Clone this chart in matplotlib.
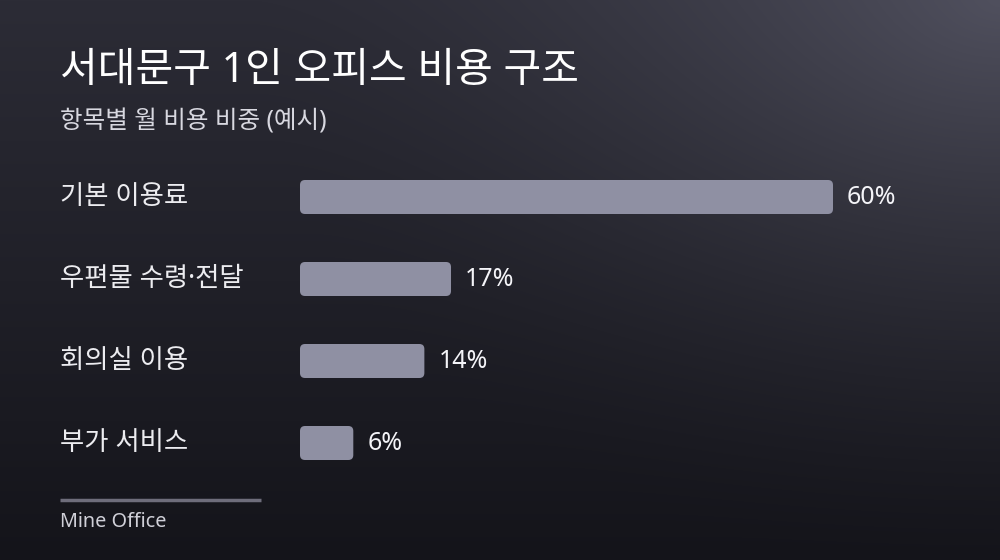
import numpy as np
import matplotlib
matplotlib.use("Agg")
import matplotlib.pyplot as plt
from matplotlib.patches import FancyBboxPatch

plt.rcParams['font.family'] = ['Noto Sans', 'Noto Sans CJK KR', 'DejaVu Sans']

# ---- data ----
title = "서대문구 1인 오피스 비용 구조"
subtitle = "항목별 월 비용 비중 (예시)"
categories = ["기본 이용료", "우편물 수령·전달", "회의실 이용", "부가 서비스"]
values = [60, 17, 14, 6]
value_labels = ["60%", "17%", "14%", "6%"]
source = "Mine Office"

W, H = 1000, 560
fig = plt.figure(figsize=(W / 100, H / 100), dpi=100)

# ---- background gradient ----
bg = fig.add_axes([0, 0, 1, 1])
yy, xx = np.mgrid[0:H, 0:W]
top = np.array([44, 44, 54], float)
bot = np.array([20, 20, 26], float)
t = (yy / H)[..., None]
img = top * (1 - t) + bot * t
d = np.sqrt((xx - W) ** 2 + (yy * 1.3) ** 2)
glow = np.clip(1 - d / 750, 0, 1) ** 1.6
img = img + glow[..., None] * np.array([36, 36, 40], float)
bg.imshow(img.astype(np.uint8), aspect='auto', extent=[0, W, H, 0])
bg.set_xlim(0, W)
bg.set_ylim(H, 0)
bg.axis('off')

# ---- bars ----
px_per_unit = 533 / 60
ax_left_px, ax_right_px = 300, 1000
ax_top_px, ax_bot_px = 156, 484
ax = fig.add_axes([ax_left_px / W, 1 - ax_bot_px / H,
                   (ax_right_px - ax_left_px) / W, (ax_bot_px - ax_top_px) / H])
ax.set_xlim(0, (ax_right_px - ax_left_px) / px_per_unit)
ax.set_ylim(len(categories) - 0.5, -0.5)
ax.axis('off')
ax.patch.set_alpha(0)

bar_h = 34 / 82
r_x = 5 / px_per_unit
r_y = 5 / 82
for i, (v, lab) in enumerate(zip(values, value_labels)):
    p = FancyBboxPatch((0, i - bar_h / 2), v, bar_h,
                       boxstyle=f"round,pad=0,rounding_size={r_x}",
                       mutation_aspect=r_y / r_x,
                       facecolor="#8f90a3", edgecolor="none")
    ax.add_patch(p)
    ax.annotate(lab, (v, i), xytext=(14, 0), textcoords='offset pixels',
                va='center', ha='left', fontsize=18, color="#f4f4f8")
    fig.text(60 / W, 1 - (197 + 82 * i) / H, categories[i], fontsize=19,
             color="#ececf0", va='center', ha='left')

# ---- titles ----
fig.text(60 / W, 1 - 71 / H, title, fontsize=29.5, color="white",
         va='center', ha='left')
fig.text(60 / W, 1 - 122 / H, subtitle, fontsize=17.7, color="#d8d8e0",
         va='center', ha='left')

# ---- footer ----
bg.plot([60, 261], [500, 500], color="#6e6d7b", lw=2.5, solid_capstyle='butt')
fig.text(60 / W, 1 - 522 / H, source, fontsize=14.3, color="#d0d0d8",
         va='center', ha='left')

fig.savefig("out.png", dpi=100)
